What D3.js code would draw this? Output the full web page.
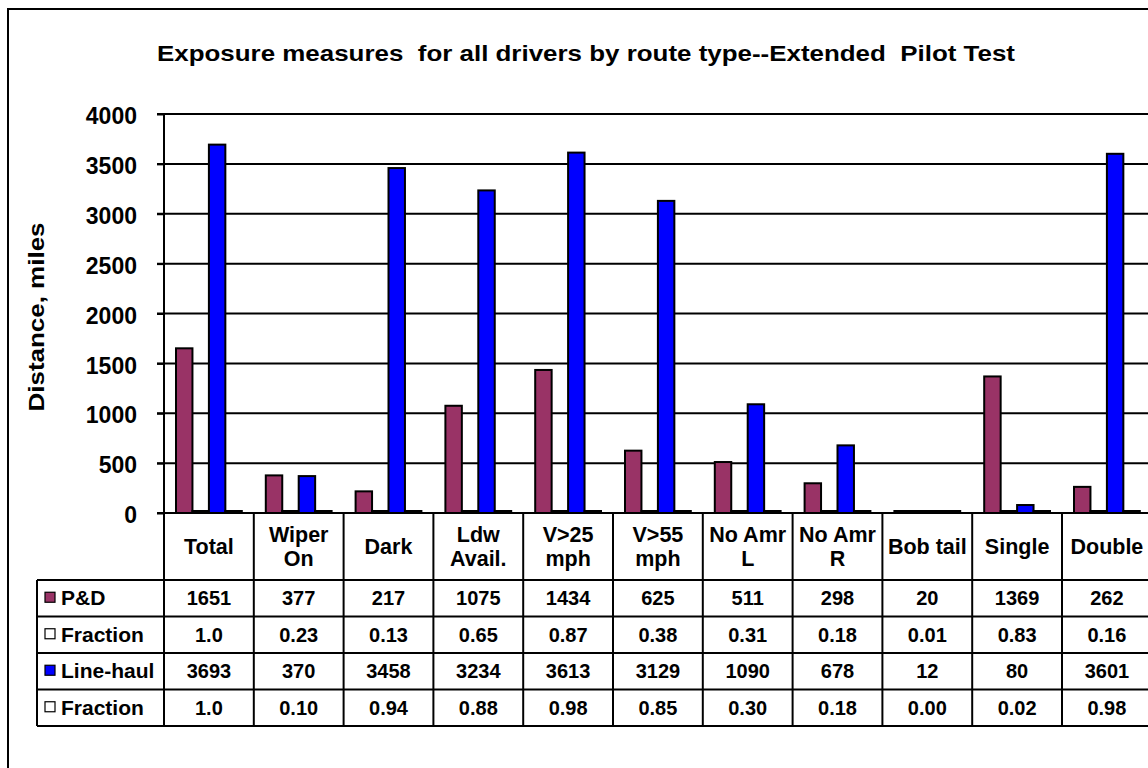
<!DOCTYPE html>
<html>
<head>
<meta charset="utf-8">
<script src="https://cdn.jsdelivr.net/npm/d3@7"></script>
<style>
  body { margin: 0; background: #fff; }
  svg text { font-family: "Liberation Sans", Arial, sans-serif; font-weight: bold; fill: #000; }
</style>
</head>
<body>
<div class="chart"></div>
<script>
var categories = ["Total", "Wiper On", "Dark", "Ldw Avail.", "V>25 mph", "V>55 mph",
  "No Amr L", "No Amr R", "Bob tail", "Single", "Double"];
// how the header cells wrap
var categoryLines = [["Total"], ["Wiper", "On"], ["Dark"], ["Ldw", "Avail."], ["V>25", "mph"],
  ["V>55", "mph"], ["No Amr", "L"], ["No Amr", "R"], ["Bob tail"], ["Single"], ["Double"]];

var seriesNames = ["P&D", "Fraction", "Line-haul", "Fraction"];
var pdMiles = [1651, 377, 217, 1075, 1434, 625, 511, 298, 20, 1369, 262];
var pdFraction = [1.0, 0.23, 0.13, 0.65, 0.87, 0.38, 0.31, 0.18, 0.01, 0.83, 0.16];
var lhMiles = [3693, 370, 3458, 3234, 3613, 3129, 1090, 678, 12, 80, 3601];
var lhFraction = [1.0, 0.10, 0.94, 0.88, 0.98, 0.85, 0.30, 0.18, 0.00, 0.02, 0.98];
var yTicks = [0, 500, 1000, 1500, 2000, 2500, 3000, 3500, 4000];

var seriesValues = [pdMiles, pdFraction, lhMiles, lhFraction];
var seriesColors = ["#993366", "#ffffff", "#0000ff", "#ffffff"];

var svgWidth = 1148;
var svgHeight = 768;

var plot = { left: 164, top: 114, bottom: 513, bandWidth: 89.8 };
var legendLeft = 37;
var rowTops = [580, 616.5, 653, 689.5, 726];

var svg = d3.select(".chart")
  .append("svg")
  .attr("width", svgWidth)
  .attr("height", svgHeight);

// outer chart border (runs off the right and bottom like the original)
svg.append("rect")
  .attr("x", 8).attr("y", 9)
  .attr("width", 1300).attr("height", 900)
  .attr("fill", "none")
  .attr("stroke", "#000")
  .attr("stroke-width", 2);

svg.append("text")
  .attr("x", 586)
  .attr("y", 61)
  .attr("text-anchor", "middle")
  .attr("font-size", 22)
  .attr("textLength", 858)
  .attr("lengthAdjust", "spacingAndGlyphs")
  .style("white-space", "pre")
  .text("Exposure measures  for all drivers by route type--Extended  Pilot Test");

// Scales
var xScale = d3.scaleBand()
  .domain(categories)
  .range([plot.left, plot.left + plot.bandWidth * categories.length]);

var xInner = d3.scaleBand()
  .domain(d3.range(seriesNames.length))
  .range([12, plot.bandWidth - 12]);

var yScale = d3.scaleLinear()
  .domain([0, 4000])
  .range([plot.bottom, plot.top]);

// gridlines
svg.append("g")
  .selectAll("line")
  .data(yTicks.filter(d => d > 0))
  .enter()
  .append("line")
  .attr("x1", plot.left - 7)
  .attr("x2", svgWidth + 10)
  .attr("y1", d => yScale(d))
  .attr("y2", d => yScale(d))
  .attr("stroke", "#000")
  .attr("stroke-width", 2);

// y axis
var leftAxis = d3.axisLeft(yScale)
  .tickValues(yTicks)
  .tickFormat(d3.format("d"))
  .tickSize(7)
  .tickPadding(20);

var yAxis = svg.append("g")
  .attr("transform", `translate(${plot.left},0)`)
  .call(leftAxis);
yAxis.select(".domain").remove();
yAxis.selectAll(".tick line").attr("stroke", "#000").attr("stroke-width", 2);
yAxis.selectAll(".tick text")
  .attr("font-size", 23)
  .attr("font-family", null)
  .attr("dy", "0.42em");

svg.append("text")
  .attr("transform", `translate(44, 317) rotate(-90)`)
  .attr("text-anchor", "middle")
  .attr("font-size", 22)
  .attr("textLength", 189)
  .attr("lengthAdjust", "spacingAndGlyphs")
  .text("Distance, miles");

// baseline drawn first so the fraction bars sit on top of it
svg.append("line")
  .attr("x1", plot.left - 7).attr("x2", svgWidth + 10)
  .attr("y1", plot.bottom).attr("y2", plot.bottom)
  .attr("stroke", "#000").attr("stroke-width", 2);

// bars (tiny fraction bars kept at least 2px so they show as a thick edge)
seriesValues.forEach(function (values, s) {
  svg.append("g")
    .selectAll("rect")
    .data(values)
    .enter()
    .append("rect")
    .attr("x", (d, i) => xScale(categories[i]) + xInner(s))
    .attr("y", d => Math.min(yScale(d), plot.bottom - 2))
    .attr("width", xInner.bandwidth())
    .attr("height", d => Math.max(plot.bottom - yScale(d), 2))
    .attr("fill", seriesColors[s])
    .attr("stroke", "#000")
    .attr("stroke-width", 2);
});

svg.append("line")
  .attr("x1", plot.left).attr("x2", plot.left)
  .attr("y1", plot.top).attr("y2", rowTops[rowTops.length - 1])
  .attr("stroke", "#000").attr("stroke-width", 2);

// data table
var table = svg.append("g");

table.selectAll(".vline")
  .data(categories)
  .enter()
  .append("line")
  .attr("x1", d => xScale(d) + xScale.bandwidth())
  .attr("x2", d => xScale(d) + xScale.bandwidth())
  .attr("y1", plot.bottom)
  .attr("y2", rowTops[rowTops.length - 1])
  .attr("stroke", "#000").attr("stroke-width", 2);

table.selectAll(".hline")
  .data(rowTops)
  .enter()
  .append("line")
  .attr("x1", legendLeft).attr("x2", svgWidth + 10)
  .attr("y1", d => d).attr("y2", d => d)
  .attr("stroke", "#000").attr("stroke-width", 2);

table.append("line")
  .attr("x1", legendLeft).attr("x2", legendLeft)
  .attr("y1", rowTops[0]).attr("y2", rowTops[rowTops.length - 1])
  .attr("stroke", "#000").attr("stroke-width", 2);

// header labels
categoryLines.forEach(function (lines, i) {
  var cx = xScale(categories[i]) + xScale.bandwidth() / 2;
  var base = lines.length === 1 ? [554] : [542, 566];
  lines.forEach(function (line, j) {
    table.append("text")
      .attr("x", cx)
      .attr("y", base[j])
      .attr("text-anchor", "middle")
      .attr("font-size", 21.5)
      .text(line);
  });
});

function fmt(v, s) {
  if (s === 1 || s === 3) return v === 1 ? "1.0" : v.toFixed(2);
  return String(v);
}

seriesValues.forEach(function (values, s) {
  var top = rowTops[s];
  var mid = (rowTops[s] + rowTops[s + 1]) / 2;

  table.append("rect")
    .attr("x", 45).attr("y", mid - 6)
    .attr("width", 10).attr("height", 10)
    .attr("fill", seriesColors[s])
    .attr("stroke", "#000").attr("stroke-width", 1.2);

  table.append("text")
    .attr("x", 61)
    .attr("y", top + 25)
    .attr("font-size", 21)
    .text(seriesNames[s]);

  table.selectAll(null)
    .data(values)
    .enter()
    .append("text")
    .attr("x", (d, i) => xScale(categories[i]) + xScale.bandwidth() / 2)
    .attr("y", top + 25)
    .attr("text-anchor", "middle")
    .attr("font-size", 20)
    .text(d => fmt(d, s));
});
</script>
</body>
</html>
